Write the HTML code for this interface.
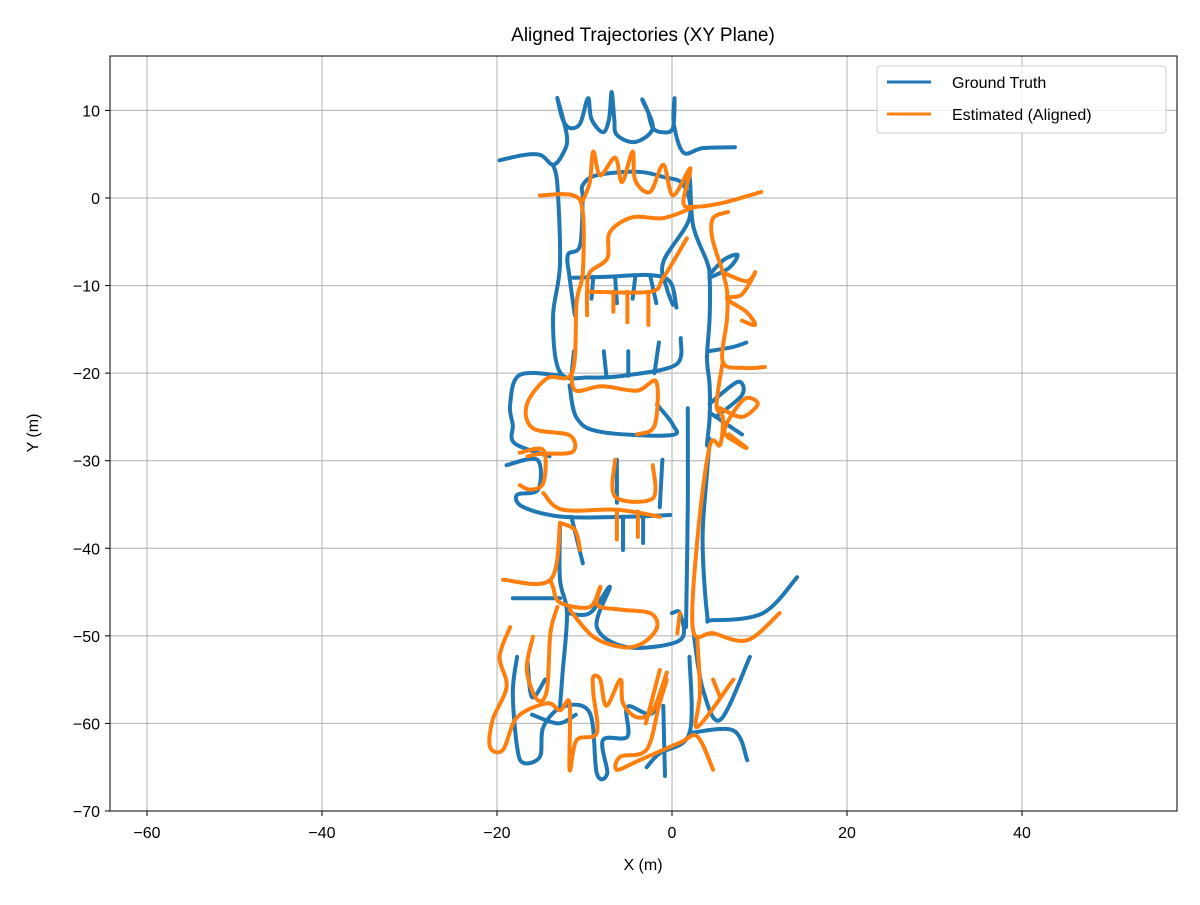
<!DOCTYPE html>
<html><head><meta charset="utf-8"><style>
body{margin:0;background:#fff;font-family:"Liberation Sans","DejaVu Sans",sans-serif;}
svg text{font-family:"Liberation Sans","DejaVu Sans",sans-serif;}
</style></head><body>
<svg id="chart" width="1200" height="900" xmlns="http://www.w3.org/2000/svg">
<rect width="1200" height="900" fill="#fff"/>
<g id="grid"></g>
<g id="series"></g>
<rect x="110" y="56" width="1067" height="755" fill="none" stroke="#000" stroke-width="1"/>
<g id="ticks"></g>
<text x="643" y="41" text-anchor="middle" font-size="19">Aligned Trajectories (XY Plane)</text>
<text x="643" y="870" text-anchor="middle" font-size="16">X (m)</text>
<text x="38" y="433" text-anchor="middle" font-size="16" transform="rotate(-90 38 433)">Y (m)</text>
<g>
<rect x="877" y="66" width="289" height="67" rx="3" fill="#fff" fill-opacity="0.8" stroke="#ccc"/>
<g>
<line x1="887" y1="82" x2="931" y2="82" stroke="#1f77b4" stroke-width="3"/>
<text x="952" y="88" font-size="16">Ground Truth</text></g>
<g>
<line x1="887" y1="114" x2="931" y2="114" stroke="#ff7f0e" stroke-width="3"/>
<text x="952" y="120" font-size="16">Estimated (Aligned)</text></g>
</g>
</svg>
<script>
const xTicks=[-60,-40,-20,0,20,40];
const yTicks=[-70,-60,-50,-40,-30,-20,-10,0,10];
const gtPaths=[
[[-19.7,4.3],[-17,4.9],[-15,4.9],[-13.6,3.8],[-12.5,5],[-12,7],[-13.1,11.4],[-12.5,9],[-11.7,8],[-10.5,8.5],[-9.6,11.4],[-9.2,9],[-7.9,7.5],[-7.2,9],[-6.9,12.1],[-6.6,9],[-6.3,7.2],[-4.2,6.4],[-2.2,8],[-3.4,11.2],[-2.8,10],[-2.2,8],[-1,7.5],[0.1,8],[0.3,11.4],[0.2,8.5],[1.3,5.2],[3.5,5.7],[7.2,5.8]],
[[-13.6,3.8],[-13.1,1.5],[-12.8,-7.6],[-13.6,-13.7],[-12.8,-19.9],[-9.4,-20.5],[-4.8,-20.2],[0.5,-19],[1,-16]],
[[-10.2,0.3],[-10.2,1.5],[-8.6,2.6],[-4,3],[-1,2.4],[1.3,1.5],[2,-2.3],[-1,-7.3],[-0.6,-10.3],[0.1,-12.2]],
[[-10.2,0.3],[-10.5,-5.4],[-11.9,-6.5],[-11.7,-9.1],[-11.1,-13.4]],
[[-11.3,-9.1],[-7.4,-9],[-2.5,-8.8],[-0.2,-9.6],[0.5,-12.5]],
[[-9,-9],[-9.2,-11.5]],[[-6.5,-9],[-6.3,-12]],[[-4.2,-9],[-4.5,-11.5]],[[-2.5,-8.8],[-1.8,-12]],
[[-11.5,-20.3],[-11.2,-17.5]],[[-7.5,-20.3],[-7.8,-17.5]],[[-5,-20.3],[-5,-17.5]],[[-2,-20],[-1.5,-16.5]],
[[1.3,1.5],[2,2.5],[2.4,-3.1],[4,-7.3],[4.3,-9.1],[4.3,-13.7],[4,-18.3],[4.3,-21.4],[4.3,-25.1],[4,-28.2],[4.3,-27.6],[4,-31.4],[3.5,-39],[4,-47.4],[4.7,-48.2],[10.4,-47.4],[14.3,-43.3]],
[[4.3,-9.1],[6.5,-8],[7.5,-6.5],[6,-7],[4.5,-8.5]],[[4.2,-17.5],[7,-17],[8.5,-16.5]],[[4.3,-23.5],[7.5,-21],[8,-22.5],[5,-25]],
[[4.3,-24.5],[6.5,-26],[8,-27]],[[1.8,-24],[1.8,-35],[1.6,-49]],
[[-12.5,-20.3],[-17.4,-20.2],[-18.5,-23.6],[-18.2,-25.9],[-18,-28],[-14,-29.5]],
[[-11.7,-21.4],[-10.9,-25.1],[-8.2,-26.7],[-0.2,-27.1],[0.1,-25.9],[-1.7,-23.6]],
[[-18.9,-30.5],[-15.4,-29.9],[-15.3,-33.3],[-17.7,-33.9],[-17,-35.3],[-12.5,-36.4],[-5.2,-36.4],[-0.2,-36.2]],
[[-6.3,-29.9],[-6.3,-34.8]],[[-1.1,-29.9],[-1.4,-35.3]],[[-5.6,-36.4],[-5.6,-40.2]],[[-3.3,-36.4],[-3.3,-39.4]],[[-11.5,-36.4],[-10.2,-41.7]],
[[-12.8,-37.1],[-12.8,-43.6],[-12,-47.4],[-12.5,-54.2],[-12.8,-58.1]],[[-18.2,-45.7],[-12.8,-45.7]],
[[-12,-47.4],[-9.4,-47.4],[-7.1,-44.4],[-8.6,-49],[-5.1,-51.3],[0.9,-50.5],[0.9,-47.4],[0,-47.4]],
[[-17.7,-52.4],[-18.2,-56.5],[-17.7,-62.7],[-17,-64.5],[-15.1,-63.8],[-14.7,-60.4],[-12.5,-58.1],[-9.4,-58.8],[-8.6,-65.7],[-7.4,-65.7],[-7.9,-61.9],[-5.1,-61.5],[-5.1,-58.1],[-2.2,-58.8],[-0.6,-54.2]],
[[-2.9,-65],[-1.4,-63.4],[2,-61.1],[2,-52.4]],[[2.5,-50],[3.5,-56],[5.5,-59.6],[8.9,-52.4]],
[[2,-61.1],[7,-60.8],[8.6,-64.2]],[[-16.5,-53],[-16,-57],[-14.5,-55]],[[-1,-58],[-0.8,-66]],
[[-16,-59],[-13,-60],[-11,-59]]
];
const estPaths=[
[[-15.1,0.3],[-11.3,0.3],[-10.2,-1.6],[-10.2,-8.5],[-10.9,-11.9],[-11.4,-19.9],[-14.3,-20.6],[-16.6,-23.6],[-15.9,-26.3],[-11.7,-27.1],[-11.4,-29],[-15,-29.2],[-16.5,-29.5]],
[[-10.2,-0.3],[-9.4,1.8],[-9,5.3],[-8.2,2.6],[-6.5,4.6],[-5.7,1.8],[-4.5,5.3],[-4.2,2],[-2.5,0.7],[-1,3.8],[0.1,0.3],[2.1,3.4],[1.3,-0.5],[2.6,-1],[6,-0.5],[10.2,0.7]],
[[2.6,-1],[-1,-2.3],[-4.5,-2.2],[-7.1,-3.9],[-7.4,-6.9],[-9.4,-8.5],[-9.7,-10.7],[-9.7,-13.4]],
[[-9.4,-10.7],[-2.5,-10.7],[-1,-9.1],[1.7,-4.6]],[[-6.7,-10.7],[-6.7,-13]],[[-5.1,-10.7],[-5.1,-14.2]],[[-2.7,-11],[-2.7,-14.5]],
[[6.4,-1.6],[4.7,-2.3],[4.6,-4.6],[5.8,-8.5],[6.3,-10.7],[6.3,-13.7],[5.8,-18.7],[8.1,-19.4],[10.6,-19.3]],
[[5.8,-18.7],[5.1,-23.6],[5.8,-25.1],[5.5,-28.2],[4.3,-28.4],[2.9,-39],[2.4,-49.3],[4.7,-49.7],[8.6,-50.5],[12.3,-47.4]],
[[5.8,-8.5],[8.5,-9.5],[9.5,-8.5],[8,-11],[6.3,-11.5],[8.5,-13],[9.5,-14.5],[8,-14]],
[[5.5,-24],[8,-25],[9.8,-23.5],[8.2,-23],[6,-26.5],[7.5,-28],[8.5,-28.5],[6.5,-27]],
[[-11.5,-20],[-11,-22],[-8,-21.5],[-4,-22],[-1.8,-21],[-2,-26],[-4,-27]],
[[-17.4,-29.1],[-14.7,-28.8],[-14.7,-32.5],[-16.2,-33.3],[-17.4,-32.8]],
[[-14.7,-33.7],[-12.5,-35.6],[-6.3,-35.6],[-1.4,-36.4]],
[[-6.5,-29.9],[-6.5,-34.1],[-2.2,-34.3],[-2.2,-30.5]],[[-6.3,-35.6],[-6.3,-39]],[[-3.9,-35.8],[-3.9,-38.7]],
[[-12.8,-37.1],[-13.9,-43.6],[-19.3,-43.6]],[[-13.9,-43.6],[-13.6,-44.4],[-12.8,-46.2],[-9.4,-46.7],[-8.2,-44.4],[-8.5,-46.5],[-5.9,-47],[-2.5,-47.4],[-1.7,-49],[-3.3,-50.8],[-5.6,-51.3],[-9,-50.1],[-11.7,-47]],
[[-12.8,-37.1],[-11.1,-37.9],[-10.5,-40.2]],[[0.9,-47.4],[0.6,-49.7]],
[[-13.1,-46.7],[-13.9,-49.7],[-14.3,-56.2],[-15.4,-57.3],[-16.6,-53.9],[-15.9,-50.1]],
[[-18.5,-49],[-19.7,-52.4],[-18.9,-55.8],[-20.5,-59.6],[-20.8,-62.7],[-19.3,-63],[-17.7,-59.3],[-14.3,-57.7],[-12.8,-58.5],[-11.7,-57.7],[-11.7,-65.3],[-10.9,-61.9],[-8.6,-61.1],[-9,-56.5],[-9,-54.7],[-8.2,-55],[-7.5,-58],[-5.9,-55],[-5.6,-57.7],[-4,-59.3],[-2.2,-58.5],[-0.6,-54.2]],
[[-0.6,-55],[-1.5,-58],[-2.9,-63],[-5.9,-63.8],[-6.3,-65.3],[-3.7,-64.2],[0.9,-62.2],[2.9,-61.5],[4.7,-65.3]],
[[2.9,-50.5],[3.2,-56.5],[2.9,-60.4],[7,-55]],[[4.7,-55],[5.5,-57]],[[-1.4,-53.9],[-3,-60]]
];
const SVGNS="http://www.w3.org/2000/svg";
const X0=672,XS=8.75,Y0=198,YS=8.757;
function sx(v){return X0+v*XS;}
function sy(v){return Y0-v*YS;}
const grid=document.getElementById('grid'),ticks=document.getElementById('ticks'),series=document.getElementById('series');
function fmt(v){return v<0?'\u2212'+Math.abs(v):String(v);}
xTicks.forEach(v=>{
 const g=document.createElementNS(SVGNS,'line');
 
 
 g.setAttribute('x1',sx(v));g.setAttribute('x2',sx(v));g.setAttribute('y1',56);g.setAttribute('y2',811);
 g.setAttribute('stroke','#b0b0b0');g.setAttribute('stroke-width','1');grid.appendChild(g);
 const t=document.createElementNS(SVGNS,'line');
 
 
 t.setAttribute('x1',sx(v));t.setAttribute('x2',sx(v));t.setAttribute('y1',811);t.setAttribute('y2',816);t.setAttribute('stroke','#000');ticks.appendChild(t);
 const l=document.createElementNS(SVGNS,'text');
 
 
 l.setAttribute('x',sx(v));l.setAttribute('y',838);l.setAttribute('text-anchor','middle');l.setAttribute('font-size','16');l.textContent=fmt(v);ticks.appendChild(l);
});
yTicks.forEach(v=>{
 const g=document.createElementNS(SVGNS,'line');
 
 
 g.setAttribute('x1',110);g.setAttribute('x2',1177);g.setAttribute('y1',sy(v));g.setAttribute('y2',sy(v));
 g.setAttribute('stroke','#b0b0b0');g.setAttribute('stroke-width','1');grid.appendChild(g);
 const t=document.createElementNS(SVGNS,'line');
 
 
 t.setAttribute('x1',105);t.setAttribute('x2',110);t.setAttribute('y1',sy(v));t.setAttribute('y2',sy(v));t.setAttribute('stroke','#000');ticks.appendChild(t);
 const l=document.createElementNS(SVGNS,'text');
 
 
 l.setAttribute('x',100);l.setAttribute('y',sy(v)+6);l.setAttribute('text-anchor','end');l.setAttribute('font-size','16');l.textContent=fmt(v);ticks.appendChild(l);
});
function smoothPath(pts){
 const P=pts.map(q=>[sx(q[0]),sy(q[1])]);
 let d='M'+P[0][0].toFixed(1)+','+P[0][1].toFixed(1);
 for(let i=0;i<P.length-1;i++){
  const p0=P[i-1]||P[i],p1=P[i],p2=P[i+1],p3=P[i+2]||P[i+1];
  const c1=[p1[0]+(p2[0]-p0[0])/6,p1[1]+(p2[1]-p0[1])/6];
  const c2=[p2[0]-(p3[0]-p1[0])/6,p2[1]-(p3[1]-p1[1])/6];
  d+=' C'+c1[0].toFixed(1)+','+c1[1].toFixed(1)+' '+c2[0].toFixed(1)+','+c2[1].toFixed(1)+' '+p2[0].toFixed(1)+','+p2[1].toFixed(1);
 }
 return d;
}
function drawPaths(paths,color,name){
 paths.forEach(p=>{
  const pl=document.createElementNS(SVGNS,'path');
  
  
  pl.setAttribute('d',smoothPath(p));
  pl.setAttribute('fill','none');pl.setAttribute('stroke',color);pl.setAttribute('stroke-width','4');
  pl.setAttribute('stroke-linejoin','round');pl.setAttribute('stroke-linecap','round');
  series.appendChild(pl);
 });
}
drawPaths(gtPaths,'#1f77b4','ground-truth-path');
drawPaths(estPaths,'#ff7f0e','estimated-path');
</script>
</body></html>
